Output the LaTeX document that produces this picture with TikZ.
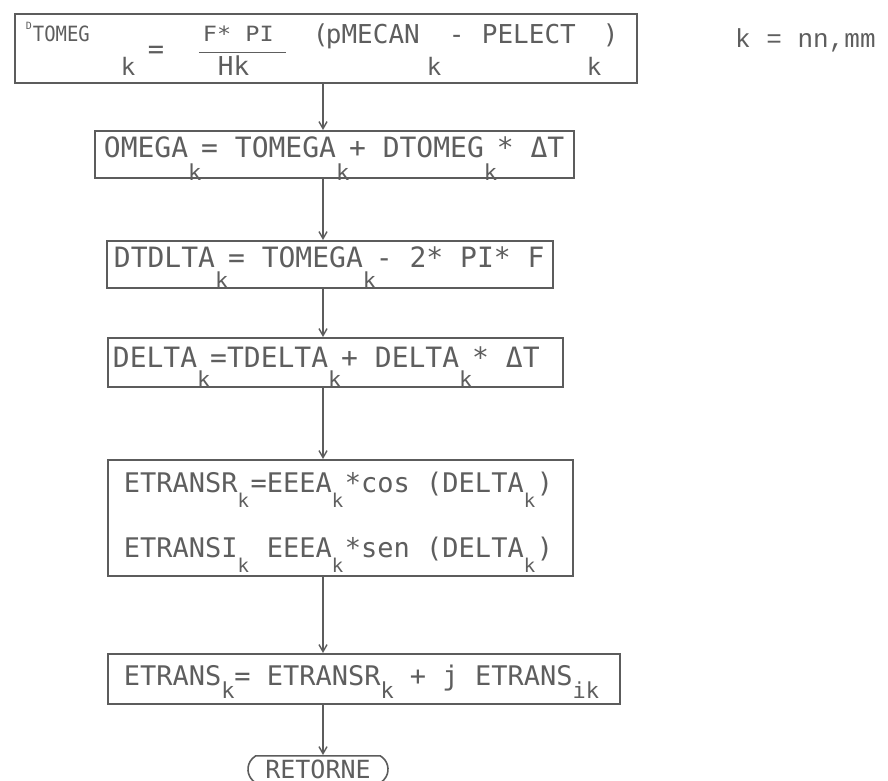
\documentclass[tikz,border=0pt]{standalone}
\usepackage{fontspec}
\usepackage{graphicx}
\usetikzlibrary{arrows.meta,shapes.misc}
\newfontfamily\tw{DejaVu Sans Mono}
\newfontfamily\lmono{Liberation Mono}
\definecolor{ink}{HTML}{5E5E5E}
\definecolor{linec}{HTML}{5C5C5C}
\newcommand\subsz{22}
\newcommand\fs[1]{\fontsize{#1}{#1}\selectfont}
\newcommand\sk[2][21pt]{\makebox[13pt][l]{\raisebox{-#1}{\fontsize{\subsz}{\subsz}\selectfont #2}}}
\newcommand\putat[2]{\rlap{\hspace*{#1}#2}}
\begin{document}
\begin{tikzpicture}[x=1pt,y=-1pt,
  box/.style={draw=linec, line width=1.8pt, inner sep=0pt, anchor=north west, text=ink, font=\tw\fs{28}},
  arr/.style={draw=linec, line width=1.4pt, -{Straight Barb[length=7pt,width=8pt]}},
  retbox/.style={draw=linec, line width=1.6pt, rounded rectangle, rounded rectangle arc length=120, inner xsep=0pt, inner ysep=1pt, minimum width=140pt, text height=22pt, text depth=3pt, text=ink, font=\tw\fs{25}, anchor=north},
  note/.style={text=ink, font=\lmono\fs{26}, inner sep=0pt, anchor=base west}]
\fill[white] (0,0) rectangle (888,781);
\useasboundingbox (0,0) rectangle (888,781);
\coordinate (ax) at (323,0);

\node[box, text height=30pt, text depth=39pt] (b1) at (14,13) {\makebox[622pt][l]{\fs{26}%
 \putat{11pt}{\raisebox{14pt}{\fs{10}D}}%
 \putat{18pt}{\raisebox{2pt}{\scalebox{0.9}[1]{\fs{21}TOMEG}}}%
 \putat{106pt}{\raisebox{-32pt}{\fs{24}k}}%
 \putat{133pt}{\raisebox{-15pt}{\fs{27}=}}%
 \putat{188pt}{\raisebox{2pt}{\scalebox{1.12}[1]{\fs{21}F* PI}}}%
 \putat{184pt}{\raisebox{-9pt}{\rule{87pt}{1.3pt}}}%
 \putat{203pt}{\raisebox{-32pt}{\fs{26}Hk}}%
 \putat{298pt}{(}%
 \putat{311pt}{pMECAN}%
 \putat{412pt}{\raisebox{-32pt}{\fs{24}k}}%
 \putat{434pt}{-}%
 \putat{467pt}{PELECT}%
 \putat{572pt}{\raisebox{-32pt}{\fs{24}k}}%
 \putat{588pt}{)}}};

\node[note] (kn) at (735,48) {k = nn,mm};

\node[box, text height=27pt, text depth=20pt] (b2) at (94,130) {\makebox[479pt][l]{\hspace*{9pt}OMEGA\sk[23pt]{k}= TOMEGA\sk[23pt]{k}+ DTOMEG\sk[23pt]{k}* ΔT}};

\node[box, text height=27pt, text depth=20pt] (b3) at (106,240) {\makebox[446pt][l]{\hspace*{7pt}DTDLTA\sk{k}= TOMEGA\sk{k}- 2* PI* F}};

\node[box, text height=30pt, text depth=19pt] (b4) at (107,337) {\makebox[455pt][l]{\hspace*{5pt}DELTA\sk[20pt]{k}=TDELTA\sk[20pt]{k}+ DELTA\sk[20pt]{k}* ΔT}};

\node[box, font=\tw\fs{27}, text height=33pt, text depth=83pt] (b5) at (107,459) {\makebox[465pt][l]{\renewcommand\subsz{19}\hspace*{16pt}%
 \rlap{\raisebox{-65pt}{ETRANSI\sk[15pt]{k} EEEA\sk[15pt]{k}*sen (DELTA\sk[15pt]{k})}}%
 ETRANSR\sk[15pt]{k}=EEEA\sk[15pt]{k}*cos (DELTA\sk[15pt]{k})}};

\node[box, font=\tw\fs{27}, text height=32pt, text depth=18pt] (b6) at (107,653) {\makebox[512pt][l]{\hspace*{16pt}ETRANS\sk[13pt]{k}= ETRANSR\sk[13pt]{k} + j ETRANS\sk[13pt]{ik}}};

\node[retbox] (ret) at (318,755) {RETORNE};

\draw[arr] (b1.south -| ax) -- (b2.north -| ax);
\draw[arr] (b2.south -| ax) -- (b3.north -| ax);
\draw[arr] (b3.south -| ax) -- (b4.north -| ax);
\draw[arr] (b4.south -| ax) -- (b5.north -| ax);
\draw[arr] (b5.south -| ax) -- (b6.north -| ax);
\draw[arr] (b6.south -| ax) -- (ret.north -| ax);
\end{tikzpicture}
\end{document}
